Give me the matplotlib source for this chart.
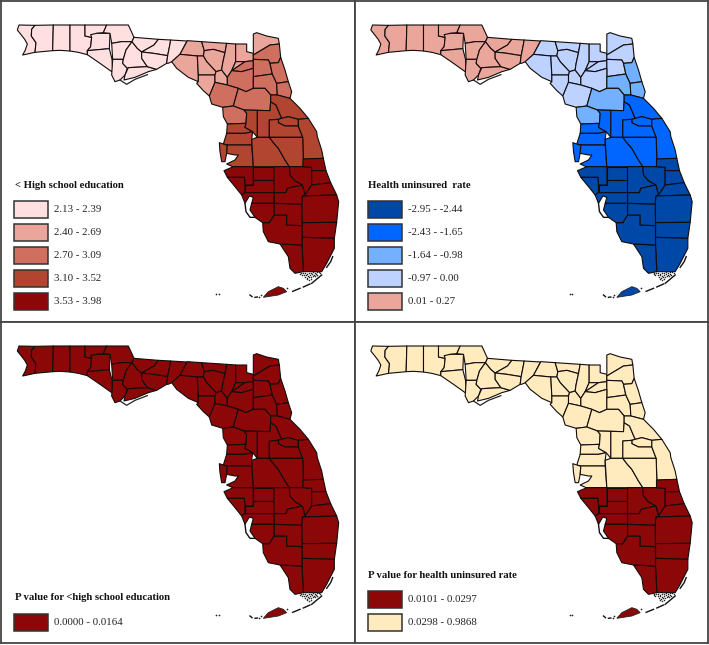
import matplotlib
matplotlib.use("Agg")
import matplotlib.pyplot as plt
from matplotlib.patches import Rectangle

plt.rcParams['font.family'] = ['Liberation Serif', 'DejaVu Serif']

# county outlines, in three tiles (x0, y0, then 3x pixels)
PANHANDLE = (0, 0)
NORTH = (170, 20)
SOUTH = (200, 160)

county_outlines = {
    "Escambia": (PANHANDLE, [(57,75),(105,76),(95,88),(94,108),(108,128),(105,157),(68,165),(76,150),(82,132),(74,118),(64,105),(52,90)]),
    "Santa Rosa": (PANHANDLE, [(105,76),(160,75),(158,152),(105,157),(108,128),(94,108),(95,88)]),
    "Okaloosa": (PANHANDLE, [(160,75),(210,75),(210,153),(180,151),(158,152)]),
    "Walton": (PANHANDLE, [(210,75),(255,75),(255,108),(275,112),(272,140),(262,152),(262,164),(235,157),(210,153)]),
    "Holmes": (PANHANDLE, [(255,75),(320,75),(310,98),(290,100),(275,112),(255,108)]),
    "Washington": (PANHANDLE, [(275,112),(272,104),(290,100),(330,100),(328,146),(262,152),(272,140)]),
    "Bay": (PANHANDLE, [(262,152),(328,146),(336,178),(338,208),(335,215),(300,190),(262,164)]),
    "Jackson": (PANHANDLE, [(320,75),(385,75),(392,90),(402,112),(396,125),(365,125),(335,130),(330,100),(310,98)]),
    "Calhoun": (PANHANDLE, [(335,130),(365,125),(396,125),(378,150),(370,178),(338,178)]),
    "Gulf": (PANHANDLE, [(338,178),(370,178),(368,190),(382,205),(375,225),(360,240),(345,245),(335,225),(336,210)]),
    "Liberty": (PANHANDLE, [(396,125),(412,145),(425,156),(425,175),(442,200),(385,203),(382,205),(368,190),(370,178),(378,150)]),
    "Franklin": (PANHANDLE, [(385,203),(442,200),(470,208),(445,215),(405,232),(372,240),(375,225)]),
    "Gadsden": (PANHANDLE, [(402,112),(475,118),(462,135),(425,156),(412,145),(396,125)]),
    "Leon": (PANHANDLE, [(475,118),(512,120),(510,132),(503,167),(460,160),(425,156),(462,135)]),
    "Wakulla": (PANHANDLE, [(425,156),(460,160),(503,167),(500,190),(470,208),(442,200),(425,175)]),
    "Jefferson": (PANHANDLE, [(512,120),(561,123),(540,163),(516,185),(504,190),(500,190),(503,167),(510,132)]),
    "Madison": (NORTH, [(52,62),(95,65),(103,92),(100,108),(82,108),(30,103)]),
    "Taylor": (NORTH, [(5,125),(30,103),(82,108),(85,165),(85,185),(55,172),(20,145)]),
    "Hamilton": (NORTH, [(95,65),(170,70),(165,98),(130,88),(103,92)]),
    "Suwannee": (NORTH, [(103,92),(130,88),(165,98),(158,130),(155,150),(138,155),(110,125),(100,108)]),
    "Lafayette": (NORTH, [(82,108),(100,108),(110,125),(138,155),(135,165),(85,165)]),
    "Dixie": (NORTH, [(85,165),(135,165),(135,187),(118,228),(100,212),(80,190),(85,185)]),
    "Gilchrist": (NORTH, [(135,165),(138,155),(155,150),(172,172),(172,195),(135,187)]),
    "Columbia": (NORTH, [(170,70),(197,72),(197,125),(185,152),(172,172),(155,150),(158,130),(165,98)]),
    "Baker": (NORTH, [(197,72),(230,72),(230,95),(250,100),(250,118),(250,122),(225,125),(197,125)]),
    "Union": (NORTH, [(197,125),(225,125),(185,152)]),
    "Nassau": (NORTH, [(250,42),(260,38),(290,48),(325,55),(328,72),(300,75),(250,105),(250,100)]),
    "Bradford": (NORTH, [(225,125),(250,122),(250,145),(215,155),(185,152)]),
    "Duval": (NORTH, [(250,105),(300,75),(328,72),(332,112),(325,128),(300,130),(295,120),(250,118)]),
    "Clay": (NORTH, [(250,118),(295,120),(300,130),(307,162),(250,170),(250,145),(250,122)]),
    "Alachua": (NORTH, [(172,172),(185,152),(215,155),(250,145),(250,170),(250,205),(228,215),(205,205),(172,195)]),
    "Levy": (NORTH, [(135,187),(172,195),(205,205),(190,258),(158,262),(125,252),(118,228)]),
    "Putnam": (NORTH, [(250,170),(307,162),(320,190),(322,225),(302,225),(285,205),(250,205)]),
    "St Johns": (NORTH, [(300,130),(325,128),(332,112),(345,150),(355,185),(320,190),(307,162)]),
    "Flagler": (NORTH, [(320,190),(355,185),(365,215),(360,235),(322,225)]),
    "Marion": (NORTH, [(205,205),(228,215),(250,205),(285,205),(302,225),(302,245),(300,272),(222,270),(190,258)]),
    "Citrus": (NORTH, [(158,262),(190,258),(222,270),(230,280),(228,310),(172,312),(160,290)]),
    "Hernando": (NORTH, [(172,312),(228,310),(225,322),(248,335),(225,340),(170,340)]),
    "Pasco": (NORTH, [(170,340),(225,340),(248,335),(245,358),(245,375),(172,375),(160,372)]),
    "Pinellas": (NORTH, [(148,368),(172,376),(170,400),(165,425),(155,425),(150,395)]),
    "Hillsborough": (NORTH, [(172,375),(245,375),(250,440),(188,440),(170,432),(195,420),(205,405),(195,405),(170,400)]),
    "Sumter": (NORTH, [(222,270),(262,271),(262,352),(248,335),(225,322),(228,310),(230,280)]),
    "Lake": (NORTH, [(262,271),(300,272),(302,245),(318,255),(335,295),(325,298),(298,300),(298,352),(262,352)]),
    "Volusia": (NORTH, [(302,225),(322,225),(360,235),(390,265),(415,295),(385,298),(355,290),(335,295),(318,255),(302,245)]),
    "Seminole": (NORTH, [(325,298),(335,295),(355,290),(385,298),(385,318),(345,318),(325,308)]),
    "Orange": (NORTH, [(298,300),(325,298),(325,308),(345,318),(385,318),(398,352),(298,352)]),
    "Brevard": (NORTH, [(385,298),(415,295),(440,335),(442,350),(455,390),(460,415),(400,418),(398,352),(385,318)]),
    "Polk": (NORTH, [(245,358),(262,352),(298,352),(310,368),(325,385),(345,420),(358,440),(250,440)]),
    "Osceola": (NORTH, [(298,352),(398,352),(400,418),(399,440),(358,440),(345,420),(325,385),(310,368)]),
    "Manatee": (SOUTH, [(72,32),(100,20),(160,20),(160,75),(135,75),(133,52),(82,52)]),
    "Sarasota": (SOUTH, [(82,52),(133,52),(135,75),(135,98),(125,105),(105,80)]),
    "Hardee": (SOUTH, [(160,20),(222,20),(222,60),(160,60)]),
    "De Soto": (SOUTH, [(160,60),(222,60),(222,98),(135,98),(135,75),(160,75)]),
    "Highlands": (SOUTH, [(222,20),(268,20),(270,45),(285,62),(307,75),(262,85),(258,98),(222,98)]),
    "Okeechobee": (SOUTH, [(268,20),(309,20),(335,22),(335,75),(315,105),(307,75),(285,62),(270,45)]),
    "Indian River": (SOUTH, [(309,-3),(370,-5),(378,32),(335,32),(335,22),(309,20)]),
    "St Lucie": (SOUTH, [(335,32),(378,32),(392,68),(335,75)]),
    "Martin": (SOUTH, [(335,75),(392,68),(410,105),(307,108),(315,105)]),
    "Palm Beach": (SOUTH, [(307,108),(410,105),(416,125),(410,187),(306,188),(305,132)]),
    "Broward": (SOUTH, [(306,188),(410,187),(403,235),(306,232)]),
    "Miami-Dade": (SOUTH, [(306,232),(403,235),(403,265),(380,310),(365,335),(310,335),(306,255)]),
    "Monroe": (SOUTH, [(240,252),(306,255),(310,335),(285,340),(270,325),(265,290)]),
    "Collier": (SOUTH, [(188,188),(208,188),(222,165),(260,165),(260,195),(306,197),(306,255),(240,252),(205,245),(190,215)]),
    "Hendry": (SOUTH, [(222,130),(305,132),(306,197),(260,195),(260,165),(222,165)]),
    "Glades": (SOUTH, [(222,98),(258,98),(262,85),(307,75),(315,105),(307,108),(305,132),(222,130)]),
    "Charlotte": (SOUTH, [(125,105),(135,98),(222,98),(222,130),(155,130),(160,112),(148,108),(135,130)]),
    "Lee": (SOUTH, [(155,130),(222,130),(222,165),(208,188),(188,188),(165,172),(150,150)]),
}

key_west = [(190,412),(205,395),(235,380),(250,385),(260,395),(235,405)]
key_chain = [[(278,394),(300,385)], [(310,381),(330,372)], [(335,370),(365,345)],
             [(380,322),(392,305),(398,290)], [(150,405),(156,410)], [(165,412),(172,411)],
             [(135,130),(138,155),(150,172),(165,172)]]
st_george_island = [(360,240),(380,253),(405,238),(442,224)]
mangrove_x = [302,308,314,320,326,332,338,344,350,356,305,312,318,324,330,336,342,348,
              316,322,328,334,340,320,326,332,300,346,352,360]
mangrove_y = [338,340,338,341,338,340,337,338,336,336,345,346,344,347,345,343,344,342,
              351,353,351,350,349,358,359,357,343,348,345,340]
far_dots_x = [48,56,178,182,262]
far_dots_y = [402,402,410,405,384]

# class per county, same order as county_outlines
education_class = [0,0,0,0,0,0,0,0,0,0,0,0,0,0,0,0,
                   1,1,1,1,1,1,1,1,1,1,1,
                   2,2,2,2,2,2,2,2,2,2,
                   3,3,3,3,3,3,3,3,3,3,3,3,
                   4,4,4,4,4,4,4,4,4,4,4,4,4,4,4,4,4,4]
uninsured_class = [4,4,4,4,4,4,4,4,4,4,4,4,4,4,4,4,
                   3,3,3,3,3,3,3,3,3,3,3,
                   3,3,3,3,3,2,2,2,2,2,
                   1,1,1,1,1,1,1,1,1,1,1,1,
                   0,0,0,0,0,0,0,0,0,0,0,0,0,0,0,0,0,0]
p_education_class = [0,0,0,0,0,0,0,0,0,0,0,0,0,0,0,0,
                     0,0,0,0,0,0,0,0,0,0,0,
                     0,0,0,0,0,0,0,0,0,0,
                     0,0,0,0,0,0,0,0,0,0,0,0,
                     0,0,0,0,0,0,0,0,0,0,0,0,0,0,0,0,0,0]
p_uninsured_class = [1,1,1,1,1,1,1,1,1,1,1,1,1,1,1,1,
                     1,1,1,1,1,1,1,1,1,1,1,
                     1,1,1,1,1,1,1,1,1,1,
                     1,1,1,1,1,1,1,1,1,1,1,1,
                     0,0,0,0,0,0,0,0,0,0,0,0,0,0,0,0,0,0]

education_labels = ["2.13 - 2.39", "2.40 - 2.69", "2.70 - 3.09", "3.10 - 3.52", "3.53 - 3.98"]
uninsured_labels = ["-2.95 - -2.44", "-2.43 - -1.65", "-1.64 - -0.98", "-0.97 - 0.00", "0.01 - 0.27"]
p_education_labels = ["0.0000 - 0.0164"]
p_uninsured_labels = ["0.0101 - 0.0297", "0.0298 - 0.9868"]

education_colors = ["#ffdfdf", "#eba69b", "#cf6f5f", "#b1452f", "#8c0808"]
uninsured_colors = ["#0048a8", "#0066ff", "#73b0ff", "#bed2ff", "#eba69b"]
p_education_colors = ["#8c0808"]
p_uninsured_colors = ["#8c0808", "#ffebbe"]


def to_pixels(tile, points):
    return [tile[0] + p[0] / 3 for p in points], [tile[1] + p[1] / 3 for p in points]


def draw_panel(ax, classes, colors, title, labels, title_y, first_box_y):
    for (name, (tile, points)), c in zip(county_outlines.items(), classes):
        xs, ys = to_pixels(tile, points)
        ax.fill(xs, ys, facecolor=colors[c], edgecolor="#120c0c", linewidth=0.8, joinstyle="round")
    # keys and the small stuff off the tip
    monroe = colors[classes[list(county_outlines).index("Monroe")]]
    xs, ys = to_pixels(SOUTH, key_west)
    ax.fill(xs, ys, facecolor=monroe, edgecolor="#222222", linewidth=0.6)
    for piece in key_chain:
        xs, ys = to_pixels(SOUTH, piece)
        ax.plot(xs, ys, color="#111111", linewidth=1.0)
    xs, ys = to_pixels(PANHANDLE, st_george_island)
    ax.plot(xs, ys, color="#222222", linewidth=0.9)
    xs, ys = to_pixels(SOUTH, list(zip(mangrove_x, mangrove_y)))
    ax.scatter(xs, ys, s=1.2, color="#222222", linewidths=0)
    xs, ys = to_pixels(SOUTH, list(zip(far_dots_x, far_dots_y)))
    ax.scatter(xs, ys, s=1.5, color="#222222", linewidths=0)

    ax.text(15, title_y, title, fontsize=7.65, fontweight="bold", va="center", color="#111111")
    for i, lab in enumerate(labels):
        y = first_box_y + 23 * i
        ax.add_patch(Rectangle((14, y), 34, 17, facecolor=colors[i], edgecolor="#333333", linewidth=1.1))
        ax.text(54, y + 8.8, lab, fontsize=7.8, va="center", color="#222222")


fig = plt.figure(figsize=(7.09, 6.45), dpi=100)
W, H = 709, 645

# left, top, width, height of each frame in pixels
frames = [(1, 1, 353.5, 320.5), (354.5, 1, 353.5, 320.5),
          (1, 322, 353.5, 321), (354.5, 322, 353.5, 321)]
panels = [
    (education_class, education_colors, "< High school education", education_labels, 185, 200.7),
    (uninsured_class, uninsured_colors, "Health uninsured  rate", uninsured_labels, 185, 200.7),
    (p_education_class, p_education_colors, "P value for <high school education", p_education_labels, 277, 292.7),
    (p_uninsured_class, p_uninsured_colors, "P value for health uninsured rate", p_uninsured_labels, 254, 269.7),
]

for (l, t, w, h), (classes, colors, title, labels, ty, by) in zip(frames, panels):
    ax = fig.add_axes([l / W, (H - t - h) / H, w / W, h / H])
    ax.set_xlim(1, 1 + w)
    ax.set_ylim(1 + h, 1)
    ax.set_xticks([])
    ax.set_yticks([])
    for s in ax.spines.values():
        s.set_color("#444444")
        s.set_linewidth(1.3)
    draw_panel(ax, classes, colors, title, labels, ty, by)

fig.savefig("out.png", dpi=100)
